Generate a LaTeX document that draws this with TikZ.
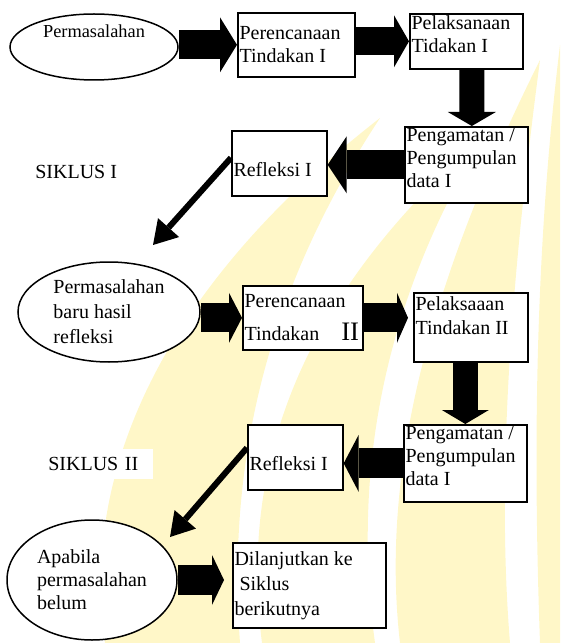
\documentclass[tikz,border=0pt]{standalone}
\usepackage{fontspec}
\setmainfont{Liberation Serif}
\usetikzlibrary{arrows.meta, shapes.geometric}

\definecolor{watermark}{RGB}{255,247,200}

% isi kotak: lebar, tinggi, posisi vertikal, teks
\newcommand{\isikotak}[4]{\parbox[c][#2][#3]{#1}{\raggedright #4}}

\tikzset{
  kotak/.style = {rectangle, draw=black, fill=white, line width=1pt, inner sep=1pt, anchor=north west},
  elips/.style = {ellipse, draw=black, fill=white, line width=0.9pt, inner sep=0pt, align=left},
  panah/.style n args = {3}{line width=#1, -{Triangle[length=#3, width=#2, line width=0pt]}},
  panahmiring/.style = {line width=3.6pt, -{Triangle[length=14pt, width=17pt, line width=0pt]}}
}

\begin{document}
\begin{tikzpicture}[x=0.6pt, y=-0.6pt, font=\fontsize{12}{13.8}\selectfont]
  \useasboundingbox (0,0) rectangle (560,643);

  % watermark
  \fill[watermark] (105,643) .. controls (80,470) and (165,285) .. (380,118)
    .. controls (280,270) and (225,440) .. (240,643) -- cycle;
  \fill[watermark] (262,643) .. controls (240,470) and (295,300) .. (485,135)
    .. controls (390,290) and (350,460) .. (375,643) -- cycle;
  \fill[watermark] (400,643) .. controls (380,470) and (430,280) .. (540,60)
    .. controls (515,250) and (495,460) .. (510,643) -- cycle;
  \fill[watermark] (560,45) .. controls (535,250) and (533,450) .. (540,643) -- (560,643) -- cycle;

  % siklus I
  \node[elips, minimum width=100.8pt, minimum height=39.6pt,
    font=\fontsize{11}{13}\selectfont, text height=8pt, text depth=19.8pt] (e1) at (94,47) {Permasalahan};
  \node[kotak] (b1) at (237,12) {\isikotak{68.2pt}{36.4pt}{c}{Perencanaan\\Tindakan I}};
  \node[kotak] (b2) at (409,13) {\isikotak{65.8pt}{31pt}{t}{Pelaksanaan\\Tidakan I}};
  \node[kotak] (b3) at (404,126) {\isikotak{71.8pt}{43.6pt}{t}{Pengamatan /\\Pengumpulan\\data I}};
  \node[kotak] (b4) at (231,130) {\isikotak{55pt}{37pt}{c}{\vspace*{8pt}Refleksi I}};
  \node[anchor=west, inner sep=0pt] (s1) at (35,172) {SIKLUS I};
  \coordinate (t1) at (153,245);

  \draw[panah={17.4pt}{33pt}{10.2pt}] (e1.east |- b1.west) -- (b1.west);
  \draw[panah={16.8pt}{31.2pt}{9pt}] (b1.east |- b2.west) -- (b2.west);
  \draw[panah={15pt}{28.8pt}{8.4pt}] ([xshift=3.3pt]b2.south) -- ([xshift=3.3pt]b3.north);
  \draw[panah={17.4pt}{34.2pt}{11.4pt}] (b3.west) -- (b3.west -| b4.east);
  \draw[panahmiring] ([yshift=3.3pt]b4.west) -- (t1);

  % siklus II
  \node[elips, minimum width=109.2pt, minimum height=60pt,
    font=\fontsize{12}{15}\selectfont] (e2) at (109,312) {Permasalahan\\baru hasil\\refleksi};
  \node[kotak] (b5) at (242,285) {\isikotak{70pt}{36.4pt}{c}{Perencanaan\\[6pt]Tindakan\hspace{1.1em}{\fontsize{16}{16}\selectfont II}}};
  \node[kotak] (b6) at (413,292) {\isikotak{66.4pt}{39.4pt}{t}{\vspace*{1.5pt}Pelaksaaan\\[0.6pt]Tindakan II}};
  \node[kotak] (b7) at (403,424) {\isikotak{71.8pt}{44.2pt}{t}{Pengamatan /\\Pengumpulan\\data I}};
  \node[kotak] (b8) at (247,424) {\isikotak{55pt}{37pt}{c}{\vspace*{8pt}Refleksi I}};
  \node[anchor=west, fill=white, inner xsep=3pt, inner ysep=0pt, text width=60pt,
    minimum height=18pt, align=left] (s2) at (43,464) {SIKLUS II};
  \coordinate (t2) at (170,537);

  \draw[panah={17.4pt}{30pt}{7.8pt}] (e2.east |- b5.west) -- (b5.west);
  \draw[panah={17.4pt}{30pt}{6.6pt}, shorten >=3pt] (b5.east) -- (b5.east -| b6.west);
  \draw[panah={15pt}{28.2pt}{8.4pt}] (b6.south -| b7.north) -- (b7.north);
  \draw[panah={18pt}{34.2pt}{9pt}] (b7.west) -- (b7.west -| b8.east);
  \draw[panahmiring] ([yshift=5.7pt]b8.west) -- (t2);

  % akhir
  \node[elips, minimum width=102pt, minimum height=72pt] (e3) at (92,580) {Apabila\\permasalahan\\belum};
  \node[kotak] (b9) at (232,542) {\isikotak{89.8pt}{49pt}{c}{Dilanjutkan ke\\[1.2pt]\hspace{0.25em}Siklus\\[1.2pt]berikutnya}};
  \draw[panah={18pt}{30pt}{7.2pt}, shorten >=4.8pt] (e3.east) -- (e3.east -| b9.west);
\end{tikzpicture}
\end{document}
